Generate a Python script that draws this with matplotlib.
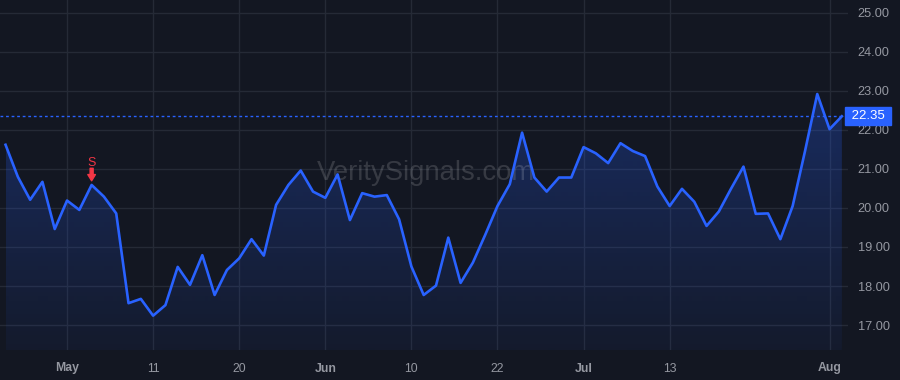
import numpy as np
import matplotlib
matplotlib.use('Agg')
import matplotlib.pyplot as plt
import matplotlib.transforms as mtransforms

plt.rcParams['font.family'] = ['Liberation Sans', 'DejaVu Sans']

################################################################
# Data (one value per bar)
price = [21.62, 20.80, 20.21, 20.67, 19.46, 20.19, 19.95, 20.59, 20.29, 19.86,
         17.56, 17.67, 17.24, 17.51, 18.49, 18.03, 18.79, 17.77, 18.41, 18.71,
         19.20, 18.78, 20.08, 20.59, 20.96, 20.42, 20.26, 20.86, 19.69, 20.38,
         20.29, 20.33, 19.71, 18.50, 17.77, 18.01, 19.24, 18.08, 18.60, 19.31,
         20.05, 20.61, 21.93, 20.78, 20.42, 20.78, 20.78, 21.56, 21.40, 21.15,
         21.66, 21.46, 21.33, 20.55, 20.05, 20.49, 20.16, 19.54, 19.91, 20.50,
         21.06, 19.85, 19.86, 19.20, 20.05, 21.45, 22.92, 22.02, 22.35]
tick_idx = [5, 12, 19, 26, 33, 40, 47, 54, 67]
tick_lab = ['May', '11', '20', 'Jun', '10', '22', 'Jul', '13', 'Aug']
months = ['May', 'Jun', 'Jul', 'Aug']
y_ticks = [17, 18, 19, 20, 21, 22, 23, 24, 25]
sig_idx = 7
sig_lab = 'S'
watermark = 'VeritySignals.com'

################################################################
# Style
bg = '#131722'
grid_c = '#252a36'
blue = '#2962ff'
red = '#f23645'
txt_c = '#9598a1'

x = np.arange(len(price))
yp = np.array(price)

fig = plt.figure(figsize=(9, 3.8), dpi=100, facecolor=bg)
ax = fig.add_axes([0, 30/380, 848/900, 350/380], facecolor=bg)

# gradient area under the line
y_lo = 16.36
poly = ax.fill_between(x, yp, y_lo, color='none', lw=0)
n = 256
rgba = np.zeros((n, 1, 4))
rgba[:, 0, :3] = matplotlib.colors.to_rgb(blue)
rgba[:, 0, 3] = np.linspace(0.05, 0.28, n)
im = ax.imshow(rgba, origin='lower', aspect='auto', interpolation='bilinear',
               extent=[x[0], x[-1], y_lo, yp.max()], zorder=1)
im.set_clip_path(poly.get_paths()[0], transform=ax.transData)
ax.set_xlim(-0.45, 68.5)
ax.set_ylim(y_lo, 25.33)

ax.plot(x, yp, color=blue, lw=1.9, zorder=3)

# grid
ax.set_yticks(y_ticks)
ax.set_xticks(tick_idx)
ax.grid(True, color=grid_c, lw=1)
ax.set_axisbelow(True)
for s in ax.spines.values():
    s.set_visible(False)

ax.yaxis.tick_right()
ax.set_yticklabels(['{:.2f}'.format(v) for v in y_ticks])
ax.tick_params(axis='y', length=0, pad=7, labelsize=9.2, labelcolor=txt_c)
ax.set_xticklabels(tick_lab)
ax.tick_params(axis='x', length=0, pad=9, labelsize=8.8, labelcolor=txt_c)
for t in ax.get_xticklabels():
    if t.get_text() in months:
        t.set_fontweight('bold')

# last price line + label
last = price[-1]
ax.axhline(last, color=blue, lw=1, ls=(0, (2, 2)), zorder=2)
tr = mtransforms.blended_transform_factory(ax.transAxes, ax.transData)
ax.text(1.0, last, ' {:.2f} '.format(last), transform=tr, ha='left', va='center',
        fontsize=9.5, color='white', zorder=5, clip_on=False,
        bbox=dict(boxstyle='square,pad=0.22', fc=blue, ec=blue))

# signal marker
ax.annotate('', xy=(sig_idx, price[sig_idx]), xytext=(0, 12), textcoords='offset points',
            arrowprops=dict(arrowstyle='simple,head_width=0.55,head_length=0.45,tail_width=0.22',
                            fc=red, ec=red, shrinkA=0, shrinkB=3), zorder=4)
ax.annotate(sig_lab, xy=(sig_idx, price[sig_idx]), xytext=(0, 16), textcoords='offset points',
            ha='center', va='center', fontsize=9, color=red, zorder=4)

# watermark
ax.text(0.502, 0.505, watermark, transform=ax.transAxes, ha='center', va='center',
        fontsize=19.8, color='white', alpha=0.15, zorder=2)

fig.savefig('out.png', dpi=100, facecolor=bg)
